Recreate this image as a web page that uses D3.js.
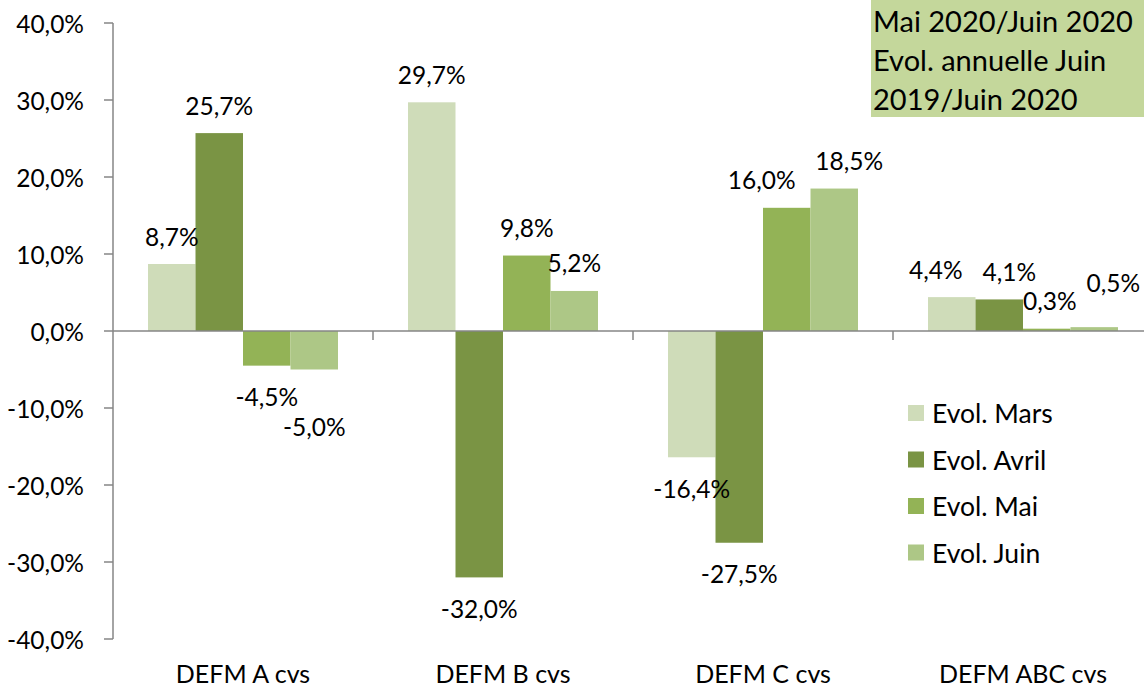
<!DOCTYPE html>
<html>
<head>
<meta charset="utf-8">
<script src="https://cdn.jsdelivr.net/npm/d3@7.9.0/dist/d3.min.js"></script>
<style>
  body { margin: 0; background: #fff; }
  svg text { font-family: Lato, "Open Sans", sans-serif; fill: #000; }
</style>
</head>
<body>
<svg id="chart" width="1144" height="688"></svg>
<script>
const categories = ['DEFM A cvs', 'DEFM B cvs', 'DEFM C cvs', 'DEFM ABC cvs'];
const seriesNames = ['Evol. Mars', 'Evol. Avril', 'Evol. Mai', 'Evol. Juin'];
const mars = [8.7, 29.7, -16.4, 4.4];
const avril = [25.7, -32.0, -27.5, 4.1];
const mai = [-4.5, 9.8, 16.0, 0.3];
const juin = [-5.0, 5.2, 18.5, 0.5];
const yTicks = [-40, -30, -20, -10, 0, 10, 20, 30, 40];
const titleLines = ['Mai 2020/Juin 2020', 'Evol. annuelle Juin', '2019/Juin 2020'];

const colors = ['#cfdcb9', '#7a9444', '#93b356', '#adc786'];
const series = [mars, avril, mai, juin];

const svg = d3.select('#chart');
const fmt = (v) => v.toFixed(1).replace('.', ',') + '%';

let x0 = d3.scaleBand().domain(categories).range([113, 1153]);
let x1 = d3.scaleBand().domain(d3.range(4)).range([35, 225]);
let y = d3.scaleLinear().domain([-40, 40]).range([639, 23]);

// y axis
svg.append('line')
  .attr('x1', 113).attr('x2', 113)
  .attr('y1', y(40)).attr('y2', y(-40))
  .attr('stroke', '#868686').attr('stroke-width', 1.5);

yTicks.forEach((t) => {
  svg.append('line')
    .attr('x1', 104).attr('x2', 113)
    .attr('y1', y(t)).attr('y2', y(t))
    .attr('stroke', '#868686').attr('stroke-width', 1.5);
  svg.append('text')
    .attr('x', 84).attr('y', y(t))
    .attr('text-anchor', 'end')
    .attr('dominant-baseline', 'central')
    .attr('font-size', 24.5)
    .text(fmt(t));
});

// bars
series.forEach((vals, s) => {
  vals.forEach((v, i) => {
    let bx = x0(categories[i]) + x1(s);
    svg.append('rect')
      .attr('x', bx)
      .attr('y', y(Math.max(0, v)))
      .attr('width', x1.bandwidth())
      .attr('height', Math.abs(y(v) - y(0)))
      .attr('fill', colors[s]);
  });
});

// zero line + category ticks
svg.append('line')
  .attr('x1', 113).attr('x2', 1144)
  .attr('y1', y(0)).attr('y2', y(0))
  .attr('stroke', '#868686').attr('stroke-width', 1.5);

categories.forEach((c) => {
  let tx = x0(c) + x0.bandwidth();
  svg.append('line')
    .attr('x1', tx).attr('x2', tx)
    .attr('y1', y(0)).attr('y2', y(0) + 9)
    .attr('stroke', '#868686').attr('stroke-width', 1.5);
  svg.append('text')
    .attr('x', x0(c) + x0.bandwidth() / 2)
    .attr('y', 683)
    .attr('text-anchor', 'middle')
    .attr('font-size', 25)
    .text(c);
});

// value labels (some nudged like the original to avoid overlaps)
const nudge = {
  '0-3': [0, 26], '2-2': [-25, 0], '2-3': [15, 0],
  '3-0': [-16, 0], '3-1': [10, 0], '3-2': [3, 0], '3-3': [19, -17]
};
series.forEach((vals, s) => {
  vals.forEach((v, i) => {
    let n = nudge[i + '-' + s] || [0, 0];
    let cx = x0(categories[i]) + x1(s) + x1.bandwidth() / 2 + n[0];
    let cy = v >= 0 ? y(v) - 28 : y(v) + 31;
    svg.append('text')
      .attr('x', cx)
      .attr('y', cy + n[1])
      .attr('text-anchor', 'middle')
      .attr('dominant-baseline', 'central')
      .attr('font-size', 24.5)
      .text(fmt(v));
  });
});

// legend
seriesNames.forEach((name, s) => {
  let ly = 413 + s * 46.5;
  svg.append('rect')
    .attr('x', 908).attr('y', ly - 8)
    .attr('width', 16).attr('height', 16)
    .attr('fill', colors[s]);
  svg.append('text')
    .attr('x', 932).attr('y', ly)
    .attr('dominant-baseline', 'central')
    .attr('font-size', 26.5)
    .text(name);
});

// title box
svg.append('rect')
  .attr('x', 871).attr('y', 0)
  .attr('width', 273).attr('height', 117)
  .attr('fill', '#c4d79b');
titleLines.forEach((line, k) => {
  svg.append('text')
    .attr('x', 873).attr('y', 20 + k * 39)
    .attr('dominant-baseline', 'central')
    .attr('font-size', 29)
    .text(line);
});
</script>
</body>
</html>
